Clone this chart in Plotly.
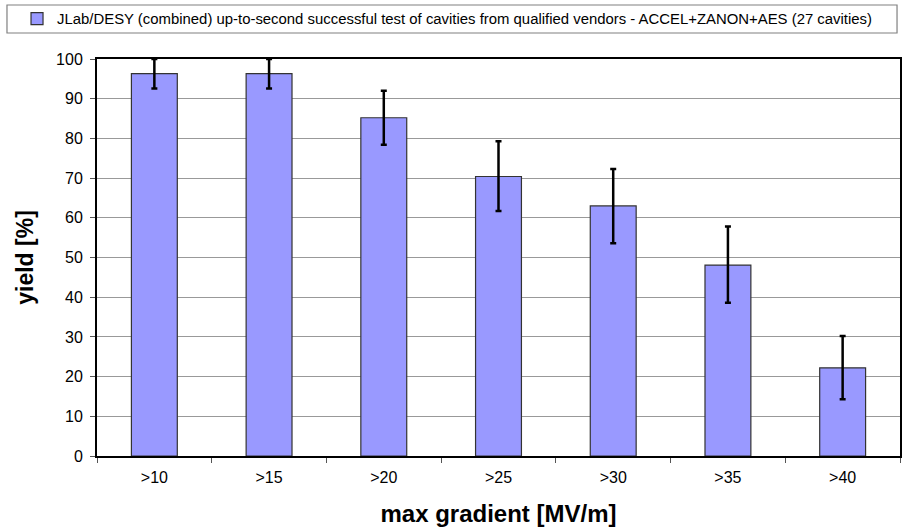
import plotly.graph_objects as go

categories = [">10", ">15", ">20", ">25", ">30", ">35", ">40"]
yield_pct = [96.3, 96.3, 85.2, 70.4, 63.0, 48.1, 22.2]
err_upper = [100.0, 100.0, 92.0, 79.3, 72.3, 57.8, 30.2]
err_lower = [92.6, 92.6, 78.4, 61.7, 53.6, 38.6, 14.3]

plus = [u - v for u, v in zip(err_upper, yield_pct)]
minus = [v - l for v, l in zip(yield_pct, err_lower)]

FONT = "Liberation Sans, Arial, sans-serif"

fig = go.Figure()
fig.add_trace(go.Bar(
    x=categories, y=yield_pct,
    name="JLab/DESY (combined) up-to-second successful test of cavities from qualified vendors - ACCEL+ZANON+AES (27 cavities)",
    marker=dict(color="#9999ff", line=dict(color="#333333", width=1.2)),
    width=0.4,
    error_y=dict(type="data", symmetric=False, array=plus, arrayminus=minus,
                 color="black", thickness=2.5, width=3),
    showlegend=True,
))

# legend frame
fig.add_shape(type="rect", xref="paper", yref="paper",
              x0=-0.1121, x1=0.9963, y0=1.0655, y1=1.136,
              line=dict(color="#808080", width=1.2), fillcolor="rgba(0,0,0,0)")

fig.update_layout(
    width=903, height=527,
    margin=dict(l=97, r=3, t=59, b=71, autoexpand=False),
    paper_bgcolor="white", plot_bgcolor="white",
    font=dict(family=FONT, color="black", size=16),
    showlegend=True,
    legend=dict(x=-0.0996, y=1.1008, xanchor="left", yanchor="middle",
                borderwidth=0, bgcolor="rgba(0,0,0,0)",
                font=dict(size=14.9, family=FONT)),
    bargap=0.6,
)
fig.update_xaxes(
    type="category",
    showline=True, linecolor="black", linewidth=2, mirror=True,
    ticks="outside", tickson="boundaries", ticklen=5, tickcolor="#555555",
    tickfont=dict(size=16), ticklabelstandoff=6,
    title=dict(text="<b>max gradient [MV/m]</b>", font=dict(size=24), standoff=20),
    showgrid=False,
)
fig.update_yaxes(
    range=[0, 100], dtick=10,
    showline=True, linecolor="black", linewidth=2, mirror=True,
    ticks="outside", ticklen=5, tickcolor="#555555",
    tickfont=dict(size=16), ticklabelstandoff=4,
    showgrid=True, gridcolor="#999999", gridwidth=1,
    title=dict(text="<b>yield [%]</b>", font=dict(size=23), standoff=16),
    zeroline=False,
)

fig.write_html("out.html",
               config={"displayModeBar": False},
               post_script="document.body.style.margin='0';document.body.style.overflow='hidden';")
